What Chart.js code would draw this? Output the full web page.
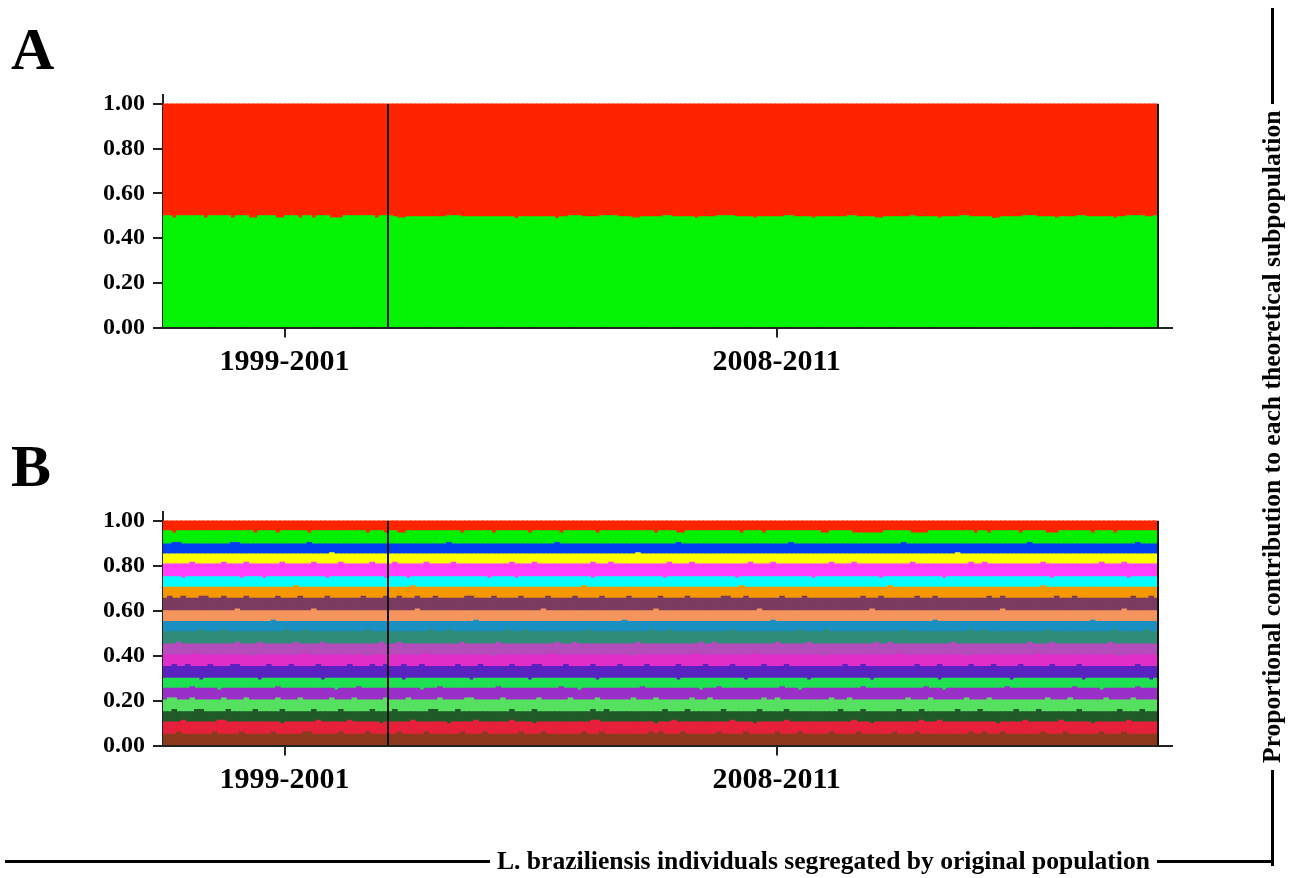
<!DOCTYPE html>
<html>
<head>
<meta charset="utf-8">
<script src="https://cdn.jsdelivr.net/npm/chart.js@4.4.1/dist/chart.umd.min.js"></script>
<style>
  html, body { margin: 0; padding: 0; background: #fff; }
  #page { position: relative; width: 1293px; height: 878px; overflow: hidden;
          font-family: "Liberation Serif", "Times New Roman", serif; font-weight: bold; color: #000; }
  .panel { position: absolute; left: 0; width: 1293px; height: 420px; }
  #panelA { top: 0; }
  #panelB { top: 417px; }
  .letter { position: absolute; left: 11px; font-size: 60px; line-height: 60px; }
  .rule { background: #000; height: 3px; flex: 0 0 auto; }
  .caption { font-size: 25.6px; white-space: nowrap; padding: 0 7px; line-height: 30px; }
  #bottomTitle { position: absolute; left: 5px; top: 846px; width: 1268px; height: 30px;
                 display: flex; align-items: center; }
  #sideTitle { position: absolute; left: 842.5px; top: 422px; width: 858px; height: 30px;
               display: flex; align-items: center; transform: rotate(-90deg); transform-origin: 50% 50%; }
  .grow { flex: 1 1 auto; }
</style>
</head>
<body>
<div id="page">
  <div class="letter" style="top:19px">A</div>
  <div class="letter" style="top:436px">B</div>
  <canvas id="panelA" class="panel" width="1293" height="420"></canvas>
  <canvas id="panelB" class="panel" width="1293" height="420"></canvas>
  <div id="sideTitle">
    <div class="rule" style="width:96px"></div>
    <div class="caption">Proportional contribution to each theoretical subpopulation</div>
    <div class="rule grow"></div>
  </div>
  <div id="bottomTitle">
    <div class="rule grow"></div>
    <div class="caption">L. braziliensis individuals segregated by original population</div>
    <div class="rule" style="width:116px"></div>
  </div>
</div>
<script>
// Sampling periods and number of individuals in each
const groups = ['1999-2001', '2008-2011'];
const groupSizes = [50, 171];

// K = 2: membership in the first (green) cluster, in thousandths, per individual
const kTwoGreen = [
  500,500,490,500,500,500,500,500,500,490,
  500,500,500,500,500,490,500,500,500,490,
  490,500,500,500,500,490,490,500,500,500,
  490,500,500,490,500,500,500,490,490,490,
  500,500,500,500,500,500,500,490,500,500,
  500,495,490,490,495,495,495,495,495,495,
  495,495,495,500,500,500,495,495,495,495,
  495,495,495,495,495,495,495,495,488,495,
  495,495,495,495,495,495,495,488,495,495,
  500,500,500,495,495,495,495,500,500,500,
  500,495,495,495,490,490,495,495,495,495,
  495,500,500,495,495,495,495,495,490,495,
  495,495,495,500,500,500,500,495,495,495,
  495,490,495,495,495,495,495,495,500,500,
  495,495,495,495,490,495,495,495,495,495,
  495,495,500,500,495,495,495,495,490,490,
  495,495,495,495,495,495,500,495,495,495,
  495,495,490,495,495,495,495,500,500,495,
  495,495,495,495,488,490,495,495,495,495,
  495,500,500,500,495,495,495,495,490,495,
  495,495,495,500,500,495,495,495,495,495,
  495,490,495,495,500,500,500,500,495,495,
  500
];

// K = 20: cumulative membership (thousandths) at the top of clusters 1..19,
// counted from the bottom of each bar; cluster 20 fills the rest up to 1.
const cum01 = [
  50,50,50,60,50,50,50,50,50,50,
  50,60,50,50,50,50,50,60,50,50,
  50,50,50,50,60,50,50,50,50,50,
  50,60,60,50,50,50,50,50,50,60,
  50,50,50,50,50,60,50,50,50,50,
  50,50,60,50,50,50,50,50,60,50,
  50,50,50,50,50,50,60,50,50,50,
  50,60,50,50,50,50,50,50,50,60,
  50,50,50,50,60,50,50,50,50,50,
  50,50,50,60,50,50,50,60,50,50,
  50,50,50,50,50,50,50,50,60,50,
  60,50,50,50,50,60,50,50,50,50,
  50,50,50,60,50,50,50,50,50,60,
  50,50,50,50,50,50,60,50,50,50,
  50,60,50,50,50,50,50,50,60,50,
  50,50,50,50,60,50,50,50,50,50,
  50,50,60,50,50,50,50,60,50,50,
  50,50,50,50,50,50,50,50,50,60,
  50,50,60,50,50,50,60,50,50,50,
  50,50,50,50,50,60,50,50,50,50,
  60,50,50,50,50,50,50,50,60,50,
  50,50,50,60,50,50,50,50,50,50,
  50
];
const cum02 = [
  105,105,105,105,113,105,105,105,105,105,
  105,105,113,113,105,105,105,105,105,105,
  105,105,105,105,105,105,97,105,105,105,
  105,105,105,105,113,105,105,105,105,105,
  105,113,105,105,105,105,105,105,97,105,
  105,105,105,105,105,113,105,105,105,105,
  105,105,105,97,105,105,105,105,105,113,
  105,105,105,105,105,105,105,113,105,105,
  105,105,97,105,105,105,105,105,105,105,
  105,105,105,105,105,113,113,105,105,105,
  105,105,105,105,105,105,105,105,105,97,
  105,105,105,113,105,105,105,105,105,105,
  105,105,105,105,105,105,113,105,105,105,
  105,97,105,105,105,105,105,105,113,105,
  105,105,105,105,105,105,105,105,105,105,
  105,105,105,113,105,105,105,97,105,105,
  105,105,105,105,105,105,105,105,113,105,
  105,105,113,105,105,105,105,105,105,105,
  105,105,105,105,105,97,105,105,105,105,
  105,113,105,105,105,105,105,105,105,113,
  105,105,105,105,105,105,97,105,105,105,
  105,105,105,105,113,105,105,105,105,105,
  105
];
const cum03 = [
  150,150,160,150,150,150,150,160,160,150,
  150,150,150,150,160,150,150,150,150,150,
  160,150,150,150,150,150,160,150,150,150,
  150,150,150,160,150,150,150,150,150,160,
  150,150,150,150,150,150,160,150,150,150,
  150,160,150,150,150,150,150,150,150,160,
  160,150,150,150,150,160,150,150,150,150,
  150,150,150,150,150,150,150,160,150,150,
  150,150,160,150,150,150,150,150,150,150,
  150,150,150,150,150,160,150,150,160,150,
  150,150,150,150,150,150,150,150,150,150,
  150,160,150,150,150,150,160,150,150,150,
  150,150,150,150,160,150,150,150,150,150,
  150,150,160,150,150,150,150,150,160,150,
  150,150,150,150,150,150,150,150,150,150,
  160,150,150,150,150,160,150,150,150,150,
  150,150,150,160,150,150,150,150,160,150,
  150,150,150,150,150,150,160,150,150,150,
  150,160,150,150,150,150,150,150,150,160,
  150,150,150,150,160,150,150,150,150,150,
  150,150,150,160,150,150,150,150,150,150,
  150,150,160,150,150,150,150,160,150,150,
  150
];
const cum04 = [
  203,212,212,203,203,203,212,203,203,203,
  203,203,203,212,203,203,203,203,212,203,
  203,203,203,203,203,212,203,203,203,203,
  212,203,203,203,203,203,203,212,203,203,
  203,203,212,203,203,203,203,203,203,212,
  203,203,203,203,212,203,203,203,203,203,
  203,212,203,203,203,203,203,212,212,203,
  203,203,203,203,203,212,203,203,203,203,
  203,203,203,212,203,203,203,203,203,203,
  212,203,203,203,203,203,212,203,203,203,
  203,203,203,203,212,203,203,203,203,212,
  203,203,203,203,203,203,203,212,203,203,
  203,212,203,203,203,203,203,203,203,203,
  203,203,203,212,203,203,212,203,203,203,
  203,203,203,203,203,203,203,203,212,203,
  203,203,212,203,203,203,203,203,203,203,
  203,203,203,203,203,212,203,203,203,203,
  212,203,203,203,203,203,203,203,212,203,
  203,203,203,212,203,203,203,203,203,203,
  203,203,203,203,203,203,212,203,203,203,
  203,212,203,203,203,203,203,203,203,212,
  203,203,203,203,203,212,203,203,203,203,
  203
];
const cum05 = [
  255,255,255,255,255,255,262,255,255,255,
  255,255,247,255,255,255,255,255,255,255,
  255,255,255,255,255,262,255,255,255,255,
  255,255,255,255,255,255,255,255,247,255,
  255,255,255,262,255,255,255,255,255,255,
  255,255,255,255,255,255,255,247,255,255,
  255,262,255,255,255,255,255,255,255,255,
  255,255,255,255,262,255,255,255,255,255,
  255,255,255,255,255,255,255,255,262,255,
  255,255,247,255,255,255,255,255,255,255,
  255,255,255,255,255,255,262,255,255,255,
  255,255,255,255,255,255,255,255,255,247,
  255,255,255,262,255,255,255,255,255,255,
  255,255,255,255,255,255,255,262,255,255,
  255,247,255,255,255,255,255,255,255,255,
  255,255,255,255,255,262,255,255,255,255,
  255,255,255,255,255,255,255,255,255,262,
  255,255,255,247,255,255,255,255,255,255,
  255,255,255,255,255,255,255,262,255,255,
  255,255,255,255,255,255,255,255,255,255,
  255,255,262,255,255,255,255,255,247,255,
  255,255,255,255,255,255,262,255,255,255,
  255
];
const cum06 = [
  300,300,300,300,300,300,300,300,292,300,
  300,300,300,300,300,300,300,300,300,300,
  300,292,300,300,300,300,300,300,300,300,
  300,300,300,300,300,292,300,300,300,300,
  300,300,300,300,300,300,300,300,300,300,
  300,300,300,292,300,300,300,300,300,300,
  300,300,300,300,300,300,300,300,292,300,
  300,300,300,300,300,300,300,300,300,300,
  300,292,300,300,300,300,300,300,300,300,
  300,300,300,300,300,300,292,300,300,300,
  300,300,300,300,300,300,300,300,300,300,
  300,300,300,300,292,300,300,300,300,300,
  300,300,300,300,300,300,300,300,300,292,
  300,300,300,300,300,300,300,300,300,300,
  300,300,300,292,300,300,300,300,300,300,
  300,300,300,300,300,300,300,292,300,300,
  300,300,300,300,300,300,300,300,300,300,
  300,300,292,300,300,300,300,300,300,300,
  300,300,300,300,300,300,300,300,292,300,
  300,300,300,300,300,300,300,300,300,300,
  300,300,300,300,292,300,300,300,300,300,
  300,300,300,300,300,300,300,300,300,292,
  300
];
const cum07 = [
  352,352,361,352,352,361,352,352,352,352,
  361,352,352,352,352,361,361,352,352,352,
  352,352,352,361,352,352,352,352,361,352,
  352,352,352,352,361,352,352,352,352,352,
  352,361,352,352,352,352,361,352,352,361,
  352,352,352,361,352,352,352,361,352,352,
  352,352,352,352,352,361,352,352,352,352,
  361,352,352,352,352,352,352,361,352,352,
  352,352,361,361,352,352,352,352,352,361,
  352,352,352,352,352,361,352,352,352,352,
  352,361,352,352,352,352,352,361,352,352,
  352,352,352,352,361,352,352,352,352,352,
  361,352,352,352,352,352,361,352,352,352,
  352,352,352,361,352,352,352,352,361,352,
  352,352,352,352,352,352,352,352,352,352,
  352,361,352,352,352,361,352,352,352,352,
  352,352,352,352,352,352,352,361,352,352,
  352,352,361,352,352,352,352,352,352,361,
  352,352,352,352,361,352,352,352,352,352,
  361,352,352,352,352,352,352,361,352,352,
  352,352,352,361,352,352,352,352,352,352,
  352,352,352,352,352,352,361,352,352,352,
  352
];
const cum08 = [
  403,403,403,403,403,403,403,410,403,403,
  403,403,403,403,403,403,403,403,403,396,
  403,403,403,403,403,403,403,403,403,403,
  403,410,403,403,403,403,403,403,403,403,
  403,403,403,403,403,396,403,403,403,403,
  403,403,403,403,403,403,403,403,410,403,
  403,403,403,403,403,403,403,403,403,403,
  403,403,403,396,403,403,403,403,403,403,
  403,403,403,403,403,403,410,403,403,403,
  403,403,403,403,403,403,403,403,403,403,
  403,403,403,403,396,403,403,403,403,403,
  403,403,403,403,403,403,403,403,410,403,
  403,403,403,403,403,403,403,403,403,403,
  403,410,403,403,403,403,403,403,403,403,
  403,403,403,403,403,403,396,403,403,403,
  403,403,403,403,403,403,403,403,403,403,
  403,403,403,410,403,403,403,403,403,403,
  403,403,403,403,403,403,403,403,396,403,
  403,403,403,403,403,403,403,403,403,403,
  403,403,403,403,410,403,403,403,403,403,
  403,403,403,403,403,403,403,403,403,403,
  403,403,396,403,403,403,403,403,403,403,
  403
];
const cum09 = [
  452,452,452,460,452,452,452,452,452,452,
  452,452,452,452,452,452,460,452,452,452,
  452,460,452,452,452,452,452,452,452,460,
  452,452,452,452,452,460,452,452,452,452,
  452,452,452,452,452,452,452,452,460,452,
  452,452,460,452,452,452,452,452,452,452,
  452,452,452,452,452,452,460,452,452,452,
  452,452,452,452,460,452,452,452,452,452,
  452,452,452,452,452,452,452,460,452,452,
  452,460,452,452,452,452,452,452,452,452,
  452,452,452,452,452,460,452,452,452,452,
  452,452,452,452,452,452,452,452,452,460,
  452,452,460,452,452,452,452,452,452,452,
  452,452,452,452,452,452,460,452,452,452,
  452,452,452,460,452,452,452,452,452,452,
  452,452,452,452,452,452,452,452,460,452,
  452,460,452,452,452,452,452,452,452,452,
  452,452,452,452,452,460,452,452,452,452,
  452,452,452,452,452,452,452,452,452,452,
  452,452,460,452,452,452,452,460,452,452,
  452,452,452,452,452,452,452,452,452,452,
  460,452,452,452,452,452,452,452,452,452,
  452
];
const cum10 = [
  507,507,507,507,507,507,507,507,515,507,
  507,507,507,515,507,507,507,507,507,507,
  507,507,507,507,507,507,507,515,507,507,
  507,515,507,507,507,507,507,507,507,507,
  507,507,507,507,507,515,507,507,507,507,
  507,507,507,507,507,507,507,507,507,515,
  507,507,507,515,507,507,507,507,507,507,
  507,507,507,507,507,507,515,507,507,507,
  515,507,507,507,507,507,507,507,507,507,
  507,507,507,507,515,507,507,507,507,507,
  507,507,507,507,507,507,507,507,515,507,
  507,507,515,507,507,507,507,507,507,507,
  507,507,507,507,507,507,515,507,507,507,
  507,507,507,507,507,507,507,507,507,507,
  507,515,507,507,507,507,507,515,507,507,
  507,507,507,507,507,507,507,507,507,507,
  507,507,507,507,515,507,507,507,507,507,
  507,507,507,507,507,507,507,507,507,515,
  507,507,515,507,507,507,507,507,507,507,
  507,507,507,507,507,507,515,507,507,507,
  507,507,507,507,507,507,507,507,507,507,
  507,515,507,507,507,507,507,507,515,507,
  507
];
const cum11 = [
  552,552,552,552,552,552,552,552,552,552,
  552,552,552,552,552,552,552,552,552,552,
  552,552,552,552,558,552,552,552,552,552,
  552,552,552,552,552,552,552,552,552,552,
  552,552,552,552,552,552,552,552,552,552,
  552,552,552,552,552,552,552,552,552,552,
  552,552,552,552,552,552,552,552,552,558,
  552,552,552,552,552,552,552,552,552,552,
  552,552,552,552,552,552,552,552,552,552,
  552,552,552,552,552,552,552,552,552,552,
  552,552,558,552,552,552,552,552,552,552,
  552,552,552,552,552,552,552,552,552,552,
  552,552,552,552,552,552,552,552,552,552,
  552,552,552,552,552,558,552,552,552,552,
  552,552,552,552,552,552,552,552,552,552,
  552,552,552,552,552,552,552,552,552,552,
  552,552,552,552,552,552,552,552,552,552,
  552,558,552,552,552,552,552,552,552,552,
  552,552,552,552,552,552,552,552,552,552,
  552,552,552,552,552,552,552,552,552,552,
  552,552,552,552,552,552,558,552,552,552,
  552,552,552,552,552,552,552,552,552,552,
  552
];
const cum12 = [
  600,600,600,600,600,600,600,600,600,600,
  600,600,600,600,600,600,608,600,600,600,
  600,600,600,600,600,600,600,600,600,600,
  600,600,600,608,600,600,600,600,600,600,
  600,600,600,600,600,600,600,600,600,600,
  600,600,600,600,600,600,608,600,600,600,
  600,600,600,600,600,600,600,600,600,600,
  600,600,600,600,600,600,600,600,600,600,
  600,600,600,600,608,600,600,600,600,600,
  600,600,600,600,600,600,600,600,600,600,
  600,600,600,600,600,600,600,600,600,608,
  600,600,600,600,600,600,600,600,600,600,
  600,600,600,600,600,600,600,600,600,600,
  600,600,608,600,600,600,600,600,600,600,
  600,600,600,600,600,600,600,600,600,600,
  600,600,600,600,600,600,600,608,600,600,
  600,600,600,600,600,600,600,600,600,600,
  600,600,600,600,600,600,600,600,600,600,
  600,600,600,600,600,600,608,600,600,600,
  600,600,600,600,600,600,600,600,600,600,
  600,600,600,600,600,600,600,600,600,600,
  600,600,600,608,600,600,600,600,600,600,
  600
];
const cum13 = [
  656,665,656,656,665,656,656,656,665,665,
  656,656,656,665,656,656,656,656,665,656,
  656,656,656,656,656,665,656,656,656,656,
  665,656,656,656,656,656,665,656,656,656,
  656,656,656,656,665,656,656,656,656,665,
  656,656,665,656,656,656,665,656,656,656,
  665,656,656,656,656,656,656,665,665,656,
  656,656,656,665,656,656,656,656,656,665,
  656,656,656,656,656,665,656,656,656,656,
  656,665,656,656,656,656,656,665,656,656,
  656,656,656,665,656,656,656,656,656,656,
  665,656,656,656,656,656,665,656,656,656,
  656,656,656,656,665,665,656,656,656,665,
  656,656,656,656,656,656,656,665,656,656,
  656,656,665,656,656,656,656,656,656,656,
  656,656,656,656,656,665,656,656,656,665,
  656,656,656,656,656,656,656,665,656,656,
  656,665,656,656,656,656,656,656,656,656,
  656,656,656,665,656,656,665,656,656,656,
  656,656,656,656,656,656,656,656,665,656,
  656,656,665,656,656,656,656,656,656,656,
  656,656,656,656,656,665,656,656,656,665,
  656
];
const cum14 = [
  705,705,705,705,705,705,705,705,705,705,
  705,705,705,705,705,705,705,705,705,705,
  705,705,705,705,705,705,705,705,705,711,
  705,705,705,705,705,705,705,705,705,705,
  705,705,705,705,705,705,705,705,705,705,
  705,705,705,705,705,711,705,705,705,705,
  705,705,705,705,705,705,705,705,705,705,
  705,705,705,705,705,705,705,705,705,705,
  705,705,705,705,705,705,705,705,705,705,
  705,705,705,711,705,705,705,705,705,705,
  705,705,705,705,705,705,705,705,705,705,
  705,705,705,705,705,705,705,705,705,705,
  705,705,705,705,705,705,705,705,711,705,
  705,705,705,705,705,705,705,705,705,705,
  705,705,705,705,705,705,705,705,705,705,
  705,705,705,705,705,705,705,705,705,705,
  705,711,705,705,705,705,705,705,705,705,
  705,705,705,705,705,705,705,705,705,705,
  705,705,705,705,705,705,705,705,705,705,
  705,705,705,705,705,711,705,705,705,705,
  705,705,705,705,705,705,705,705,705,705,
  705,705,705,705,705,705,705,705,705,705,
  705
];
const cum15 = [
  752,752,752,752,745,752,752,752,752,752,
  752,752,752,752,752,752,752,745,752,752,
  752,752,745,752,752,752,752,752,752,752,
  752,752,752,752,752,752,745,752,752,752,
  752,752,752,752,752,752,752,752,752,745,
  752,752,752,752,745,752,752,752,752,752,
  752,752,752,752,752,752,752,752,752,752,
  752,752,745,752,752,752,752,752,745,752,
  752,752,752,752,752,752,752,752,752,752,
  752,752,752,752,752,745,752,752,752,752,
  752,752,752,752,752,752,752,752,752,752,
  752,745,752,752,752,752,752,752,752,752,
  752,752,752,752,752,752,752,745,752,752,
  752,752,752,752,752,752,752,752,752,752,
  752,752,752,752,745,752,752,752,752,752,
  752,752,752,752,752,752,752,752,752,745,
  752,752,752,752,752,752,752,752,752,752,
  752,752,752,745,752,752,752,752,752,752,
  752,752,752,752,752,752,752,752,752,752,
  752,752,752,752,752,752,752,745,752,752,
  752,752,752,752,752,752,752,752,752,752,
  752,752,752,752,745,752,752,752,752,752,
  752
];
const cum16 = [
  808,808,808,808,808,808,816,808,808,808,
  808,808,808,816,808,808,808,808,816,808,
  808,808,808,808,808,808,816,808,808,808,
  808,808,808,816,808,808,808,808,808,816,
  808,808,808,808,808,808,816,808,808,808,
  808,816,808,808,808,808,808,808,816,808,
  808,808,808,808,816,808,808,808,808,808,
  808,808,808,808,808,808,808,816,808,808,
  808,808,816,808,808,808,808,808,808,808,
  808,808,808,808,808,816,808,808,808,816,
  808,808,808,808,808,808,808,808,808,808,
  808,808,816,808,808,808,808,816,808,808,
  808,808,808,808,808,808,808,808,808,808,
  816,808,808,808,808,816,808,808,808,808,
  808,808,808,808,808,808,808,808,816,808,
  808,808,808,816,808,808,808,808,808,808,
  808,808,808,808,808,808,816,808,808,808,
  808,808,808,808,808,808,808,808,808,816,
  808,808,816,808,808,808,808,808,808,808,
  808,808,808,808,808,816,808,808,808,808,
  808,808,808,808,808,808,808,808,816,808,
  808,808,808,816,808,808,808,808,808,808,
  808
];
const cum17 = [
  853,853,853,853,853,853,853,853,853,853,
  853,853,853,853,853,853,853,853,853,853,
  853,853,853,853,853,853,853,853,853,853,
  853,853,853,853,853,853,853,859,853,853,
  853,853,853,853,853,853,853,853,853,853,
  853,853,853,853,853,853,853,853,853,853,
  853,853,853,853,853,853,853,853,853,853,
  853,853,853,853,853,853,853,853,853,853,
  853,853,853,853,853,853,853,853,853,853,
  853,853,853,853,853,853,853,853,853,853,
  853,853,853,853,853,859,853,853,853,853,
  853,853,853,853,853,853,853,853,853,853,
  853,853,853,853,853,853,853,853,853,853,
  853,853,853,853,853,853,853,853,853,853,
  853,853,853,853,853,853,853,853,853,853,
  853,853,853,853,853,853,853,853,853,853,
  853,853,853,853,853,853,853,853,853,853,
  853,853,853,853,853,853,859,853,853,853,
  853,853,853,853,853,853,853,853,853,853,
  853,853,853,853,853,853,853,853,853,853,
  853,853,853,853,853,853,853,853,853,853,
  853,853,853,853,853,853,853,853,853,853,
  853
];
const cum18 = [
  898,898,904,904,898,898,898,898,898,898,
  898,898,898,898,898,904,904,898,898,898,
  898,898,898,898,898,898,898,898,898,898,
  898,898,904,898,898,898,898,898,898,898,
  898,898,898,898,898,898,898,898,898,898,
  898,898,898,898,898,898,898,898,898,898,
  898,898,898,904,898,898,898,898,898,898,
  898,898,898,898,898,898,898,898,898,898,
  898,898,898,898,898,898,898,904,898,898,
  898,898,898,898,898,898,898,898,898,898,
  898,898,898,898,898,898,898,898,898,898,
  898,898,898,898,904,898,898,898,898,898,
  898,898,898,898,898,898,898,898,898,898,
  898,898,898,898,898,898,898,898,898,904,
  898,898,898,898,898,898,898,898,898,898,
  898,898,898,898,898,898,898,898,898,898,
  898,898,898,898,904,898,898,898,898,898,
  898,898,898,898,898,898,898,898,898,898,
  898,898,898,898,898,898,898,898,898,898,
  898,898,904,898,898,898,898,898,898,898,
  898,898,898,898,898,898,898,898,898,898,
  898,898,898,898,898,898,904,898,898,898,
  898
];
const cum19 = [
  957,957,947,957,957,957,957,957,957,957,
  957,957,957,957,957,957,957,957,957,957,
  947,957,957,957,957,947,957,957,957,957,
  957,957,947,957,957,957,957,957,957,957,
  957,957,957,957,957,947,957,957,957,947,
  957,957,947,947,957,957,957,957,957,957,
  957,957,957,957,957,957,947,957,957,957,
  957,957,957,947,957,957,957,957,957,957,
  957,947,957,957,957,957,957,957,947,957,
  957,957,957,957,957,957,947,957,957,957,
  957,957,957,957,957,957,957,957,957,947,
  957,957,957,957,947,947,957,957,957,957,
  957,957,957,957,957,957,957,957,947,957,
  957,957,957,947,957,957,957,957,957,957,
  957,957,957,957,957,957,947,947,957,957,
  957,957,957,947,947,947,947,947,947,947,
  957,957,957,957,957,957,947,947,947,947,
  957,957,957,957,957,957,957,957,957,957,
  947,957,957,947,957,957,957,957,957,957,
  947,957,957,957,957,957,947,947,947,957,
  957,957,957,957,957,957,947,957,957,957,
  957,947,957,957,957,957,957,957,957,957,
  957
];

// Cluster colours
const kTwoColors = ['#05f305', '#ff2400'];
const kTwentyColors = [
  '#8c3a1e', '#e6203a', '#1f5a28', '#55e060', '#9a30c8',
  '#1ee050', '#5a22c0', '#e02ec8', '#b44cbc', '#2e8c78',
  '#1a90c0', '#f5955e', '#7b3b60', '#f59800', '#00ffff',
  '#ff40ff', '#ffff00', '#0040f0', '#00f000', '#ff2400'
];

const nIndividuals = groupSizes.reduce((a, b) => a + b, 0);
const serif = '"Liberation Serif", "Times New Roman", serif';

// Floating bars: each cluster spans [cumulative below, cumulative at its top]
function clusterDatasets(cuts, colors) {
  return colors.map((color, k) => ({
    data: Array.from({ length: nIndividuals }, (_, i) => ({
      x: i + 0.5,
      y: [k === 0 ? 0 : cuts[k - 1][i] / 1000, k === colors.length - 1 ? 1 : cuts[k][i] / 1000]
    })),
    backgroundColor: color,
    borderWidth: 0,
    inflateAmount: 0.5,
    grouped: false,
    barPercentage: 1,
    categoryPercentage: 1
  }));
}

// Black separators between sampling periods and at the end of the last one
const separators = {
  id: 'separators',
  afterDatasetsDraw(chart) {
    const { ctx, scales: { x, y } } = chart;
    let edge = 0;
    ctx.save();
    ctx.strokeStyle = '#111';
    ctx.lineWidth = 2;
    groupSizes.forEach(n => {
      edge += n;
      const px = Math.round(x.getPixelForValue(edge));
      ctx.beginPath();
      ctx.moveTo(px, y.getPixelForValue(1));
      ctx.lineTo(px, y.getPixelForValue(0));
      ctx.stroke();
    });
    ctx.restore();
  }
};

function drawPanel(id, datasets, areaBottom) {
  const canvasH = 420;
  new Chart(document.getElementById(id), {
    type: 'bar',
    data: { datasets },
    plugins: [separators],
    options: {
      responsive: false,
      animation: false,
      devicePixelRatio: 1,
      layout: { padding: { left: 63, right: 121.5, top: 95, bottom: canvasH - areaBottom - 60 } },
      plugins: { legend: { display: false }, tooltip: { enabled: false } },
      scales: {
        x: {
          type: 'linear',
          min: 0,
          max: nIndividuals + 3,
          offset: false,
          z: 1,
          border: { display: true, color: '#222', width: 2 },
          grid: { offset: false, drawOnChartArea: false, drawTicks: true, tickLength: 10, color: '#222', lineWidth: 2 },
          afterBuildTicks: s => { s.ticks = [{ value: 27 }, { value: 136.3 }]; },
          afterFit: s => { s.height = 60; s.paddingLeft = 0; s.paddingRight = 0; },
          ticks: {
            autoSkip: false, maxRotation: 0, padding: 7, color: '#000',
            font: { family: serif, size: 30, weight: 'bold' },
            callback: (v, i) => groups[i]
          }
        },
        y: {
          min: 0,
          max: 1.04,
          z: 1,
          border: { display: true, color: '#222', width: 2 },
          grid: { drawOnChartArea: false, drawTicks: true, tickLength: 10, color: '#222', lineWidth: 2 },
          afterFit: s => { s.width = 100; s.paddingTop = 0; s.paddingBottom = 0; },
          ticks: {
            stepSize: 0.2, includeBounds: false, padding: 8, color: '#000',
            font: { family: serif, size: 24, weight: 'bold' },
            callback: v => v.toFixed(2)
          }
        }
      }
    }
  });
}

// Panel A: K = 2
const kTwoCuts = [kTwoGreen];
drawPanel('panelA', clusterDatasets(kTwoCuts, kTwoColors), 327.5);

// Panel B: K = 20
const kTwentyCuts = [cum01, cum02, cum03, cum04, cum05, cum06, cum07, cum08, cum09, cum10,
                     cum11, cum12, cum13, cum14, cum15, cum16, cum17, cum18, cum19];
drawPanel('panelB', clusterDatasets(kTwentyCuts, kTwentyColors), 328.5);
</script>
</body>
</html>
